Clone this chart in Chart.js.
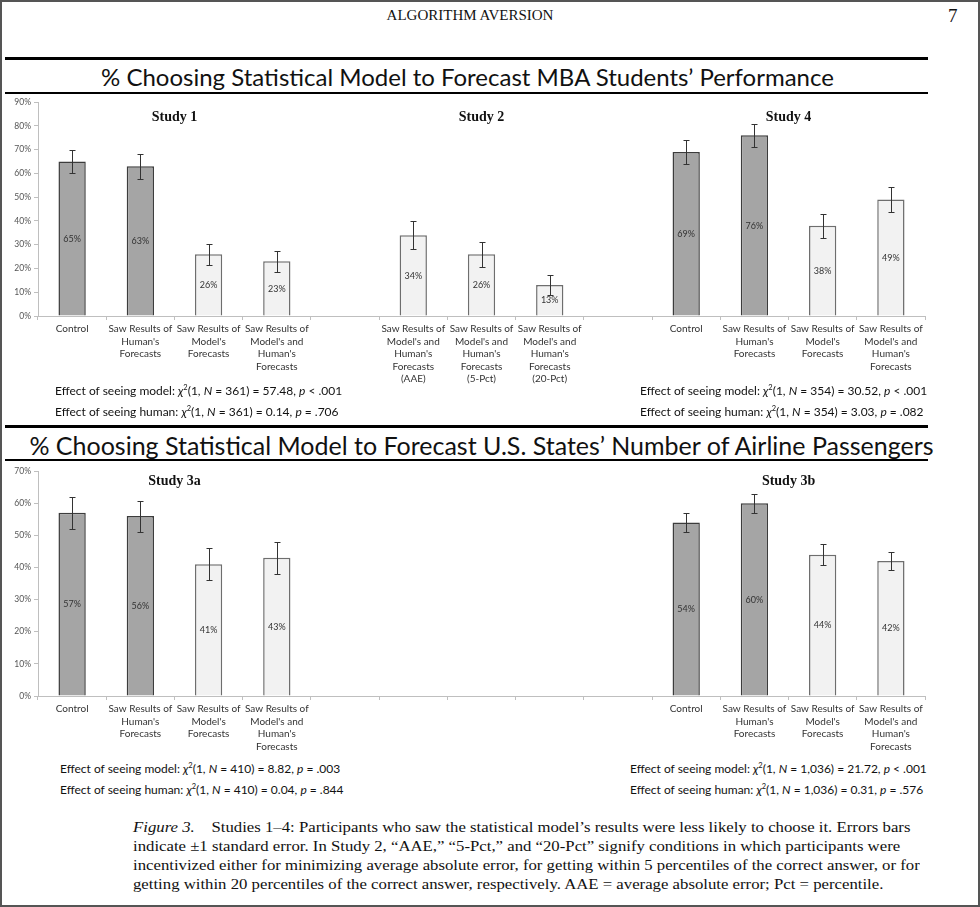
<!DOCTYPE html>
<html>
<head>
<meta charset="utf-8">
<script src="https://cdn.jsdelivr.net/npm/chart.js@4.4.0/dist/chart.umd.min.js"></script>
<style>
html, body { margin: 0; padding: 0; background: #fff; }
#page { position: relative; width: 980px; height: 907px; overflow: hidden; font-family: Lato, "Open Sans", sans-serif; color: #111; }
#frame { position: absolute; left: 0; top: 0; width: 976px; height: 903px; border: 2px solid #555; pointer-events: none; }
.abs { position: absolute; white-space: nowrap; }
.rule { position: absolute; left: 5px; width: 923px; background: #000; }
.head { font-family: "Liberation Serif", serif; }
.title { font-family: Lato, sans-serif; text-align: center; }
.stat { font-size: 12px; color: #111; }
.stat sup { font-size: 7.5px; vertical-align: 5px; }
.caption { font-family: "Liberation Serif", serif; font-size: 15px; line-height: 19px; left: 133px; top: 818px; transform-origin: 0 0; }
canvas { position: absolute; left: 0; }
</style>
</head>
<body>
<div id="page">
  <div class="abs head" style="left:0;width:940px;text-align:center;top:7px;font-size:15px;">ALGORITHM AVERSION</div>
  <div class="abs head" style="left:948px;top:5px;font-size:19px;">7</div>

  <div class="rule" style="top:57px;height:3px;"></div>
  <div class="abs title" style="top:62px;left:0;width:935px;font-size:24px;">% Choosing Statistical Model to Forecast MBA Students’ Performance</div>
  <div class="rule" style="top:92px;height:2px;"></div>

  <canvas id="mba" width="980" height="291" style="top:94px;"></canvas>

  <div class="abs stat" style="left:55px;top:383px;">Effect of seeing model: <i>χ</i><sup>2</sup>(1, <i>N</i> = 361) = 57.48, <i>p</i> &lt; .001</div>
  <div class="abs stat" style="left:55px;top:404px;">Effect of seeing human: <i>χ</i><sup>2</sup>(1, <i>N</i> = 361) = 0.14, <i>p</i> = .706</div>
  <div class="abs stat" style="left:640px;top:383px;">Effect of seeing model: <i>χ</i><sup>2</sup>(1, <i>N</i> = 354) = 30.52, <i>p</i> &lt; .001</div>
  <div class="abs stat" style="left:640px;top:404px;">Effect of seeing human: <i>χ</i><sup>2</sup>(1, <i>N</i> = 354) = 3.03, <i>p</i> = .082</div>

  <div class="rule" style="top:425px;height:3px;"></div>
  <div class="abs title" style="top:430px;left:0;width:963px;font-size:25px;">% Choosing Statistical Model to Forecast U.S. States’ Number of Airline Passengers</div>
  <div class="rule" style="top:459px;height:2px;"></div>

  <canvas id="airline" width="980" height="297" style="top:463px;"></canvas>

  <div class="abs stat" style="left:60px;top:761px;">Effect of seeing model: <i>χ</i><sup>2</sup>(1, <i>N</i> = 410) = 8.82, <i>p</i> = .003</div>
  <div class="abs stat" style="left:60px;top:782px;">Effect of seeing human: <i>χ</i><sup>2</sup>(1, <i>N</i> = 410) = 0.04, <i>p</i> = .844</div>
  <div class="abs stat" style="left:630px;top:761px;">Effect of seeing model: <i>χ</i><sup>2</sup>(1, <i>N</i> = 1,036) = 21.72, <i>p</i> &lt; .001</div>
  <div class="abs stat" style="left:630px;top:782px;">Effect of seeing human: <i>χ</i><sup>2</sup>(1, <i>N</i> = 1,036) = 0.31, <i>p</i> = .576</div>

  <div class="abs caption" id="caption"><i>Figure 3.</i>&nbsp;&nbsp;&nbsp; Studies 1–4: Participants who saw the statistical model’s results were less likely to choose it. Errors bars<br>indicate ±1 standard error. In Study 2, “AAE,” “5-Pct,” and “20-Pct” signify conditions in which participants were<br>incentivized either for minimizing average absolute error, for getting within 5 percentiles of the correct answer, or for<br>getting within 20 percentiles of the correct answer, respectively. AAE = average absolute error; Pct = percentile.</div>

  <div id="frame"></div>
</div>

<script>
// condition labels (same four conditions in Studies 1, 3a, 3b, 4)
var conditionLabels = [
	["Control"],
	["Saw Results of", "Human's", "Forecasts"],
	["Saw Results of", "Model's", "Forecasts"],
	["Saw Results of", "Model's and", "Human's", "Forecasts"]
];
var study2Labels = [
	["Saw Results of", "Model's and", "Human's", "Forecasts", "(AAE)"],
	["Saw Results of", "Model's and", "Human's", "Forecasts", "(5-Pct)"],
	["Saw Results of", "Model's and", "Human's", "Forecasts", "(20-Pct)"]
];

// % choosing the model, and +-1 standard error
var study1Values = [65, 63, 26, 23];
var study1Errors = [5, 5.2, 4.5, 4.5];
var study2Values = [34, 26, 13];
var study2Errors = [6, 5.2, 4.2];
var study4Values = [69, 76, 38, 49];
var study4Errors = [5, 4.7, 5, 5.4];
var study3aValues = [57, 56, 41, 43];
var study3aErrors = [4.9, 4.8, 5, 5];
var study3bValues = [54, 60, 44, 42];
var study3bErrors = [3.1, 3, 3.2, 2.8];

var mbaMax = 90;
var airlineMax = 70;

// empty category slots between the study groups
function buildPanel(groups) {
	var labels = [], values = [], errors = [], titles = [];
	groups.forEach(function(g) {
		for (var k = 0; k < (g.gap || 0); k++) {
			labels.push("");
			values.push(null);
			errors.push(null);
		}
		var start = labels.length;
		for (var i in g.values) {
			labels.push(g.labels[i]);
			values.push(g.values[i]);
			errors.push(g.errors[i]);
		}
		titles.push({ text: g.name, from: start, to: labels.length - 1 });
	});
	return { labels: labels, values: values, errors: errors, titles: titles };
}

var mba = buildPanel([
	{ name: "Study 1", labels: conditionLabels, values: study1Values, errors: study1Errors },
	{ name: "Study 2", labels: study2Labels, values: study2Values, errors: study2Errors, gap: 1 },
	{ name: "Study 4", labels: conditionLabels, values: study4Values, errors: study4Errors, gap: 1 }
]);
var airline = buildPanel([
	{ name: "Study 3a", labels: conditionLabels, values: study3aValues, errors: study3aErrors },
	{ name: "Study 3b", labels: conditionLabels, values: study3bValues, errors: study3bErrors, gap: 5 }
]);

// bars for conditions that saw the model are light, the others dark
function sawModel(label) {
	return [].concat(label).join(" ").indexOf("Model's") >= 0;
}

var extras = {
	id: "extras",
	afterDatasetsDraw: function(chart, args, opts) {
		var ctx = chart.ctx;
		var xs = chart.scales.x, ys = chart.scales.y;
		var ds = chart.data.datasets[0];
		var meta = chart.getDatasetMeta(0);
		ctx.save();
		ctx.textAlign = "center";
		ctx.textBaseline = "middle";
		meta.data.forEach(function(bar, i) {
			var v = ds.data[i];
			if (v == null) return;
			var e = opts.errors[i];
			var cx = bar.x;
			ctx.fillStyle = "#333";
			ctx.font = "9px Lato";
			ctx.fillText(v + "%", cx, ys.getPixelForValue(v / 2));

			var top = Math.round(ys.getPixelForValue(v + e)) + 0.5;
			var bot = Math.round(ys.getPixelForValue(v - e)) + 0.5;
			var px = Math.round(cx) + 0.5;
			ctx.strokeStyle = "#333";
			ctx.lineWidth = 1;
			ctx.beginPath();
			ctx.moveTo(px, top); ctx.lineTo(px, bot);
			ctx.moveTo(px - 3, top); ctx.lineTo(px + 3, top);
			ctx.moveTo(px - 3, bot); ctx.lineTo(px + 3, bot);
			ctx.stroke();
		});
		opts.titles.forEach(function(t) {
			var cx = (xs.getPixelForValue(t.from) + xs.getPixelForValue(t.to)) / 2;
			ctx.fillStyle = "#111";
			ctx.font = "bold 14px 'Liberation Serif'";
			ctx.fillText(t.text, cx, chart.chartArea.top + opts.titleOffset);
		});
		ctx.restore();
	}
};

function makeChart(id, panel, max, xHeight, padTop, titleOffset) {
	return new Chart(document.getElementById(id), {
		type: "bar",
		data: {
			labels: panel.labels,
			datasets: [{
				data: panel.values,
				backgroundColor: function(c) { return sawModel(panel.labels[c.dataIndex]) ? "#f2f2f2" : "#a5a5a5"; },
				borderColor: function(c) { return sawModel(panel.labels[c.dataIndex]) ? "#6e6e6e" : "#3c3c3c"; },
				borderWidth: 1.5,
				categoryPercentage: 1,
				barPercentage: 0.4
			}]
		},
		options: {
			responsive: false,
			animation: false,
			layout: { padding: { top: padTop, right: 55, left: 0, bottom: 0 } },
			plugins: {
				legend: { display: false },
				tooltip: { enabled: false },
				extras: { errors: panel.errors, titles: panel.titles, titleOffset: titleOffset }
			},
			scales: {
				x: {
					grid: { display: true, drawOnChartArea: false, drawTicks: true, tickLength: 4, color: "#bfbfbf", offset: true },
					border: { display: true, color: "#bfbfbf" },
					ticks: { autoSkip: false, maxRotation: 0, padding: 3, color: "#333", font: { family: "Lato", size: 10, lineHeight: 1.25 } },
					afterFit: function(s) { s.height = xHeight; }
				},
				y: {
					min: 0,
					max: max,
					grid: { display: true, drawOnChartArea: false, drawTicks: true, tickLength: 4, color: "#bfbfbf" },
					border: { display: true, color: "#bfbfbf" },
					ticks: { stepSize: 10, padding: 3, color: "#555", font: { family: "Lato", size: 8.5 }, callback: function(v) { return v + "%"; } },
					afterFit: function(s) { s.width = 38; }
				}
			}
		},
		plugins: [extras]
	});
}

makeChart("mba", mba, mbaMax, 69, 7, 15);
makeChart("airline", airline, airlineMax, 64, 7, 10);

// the caption block in the reference is set to a width of about 787px
var cap = document.getElementById("caption");
cap.style.transform = "scaleX(" + (787 / cap.offsetWidth) + ")";
</script>
</body>
</html>
